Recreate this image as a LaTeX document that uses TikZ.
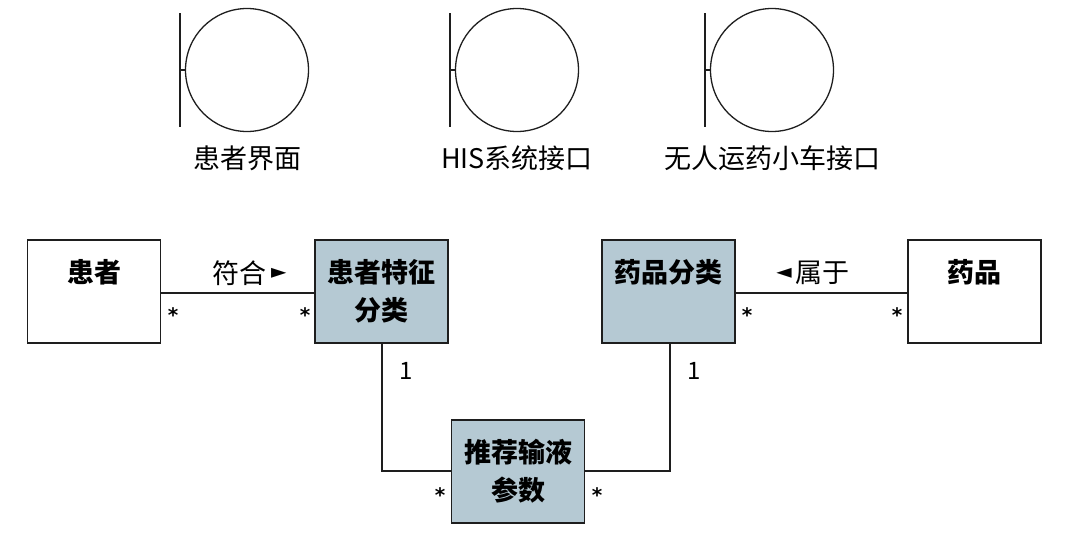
\documentclass[tikz,border=0pt]{standalone}
\usepackage{fontspec}
\usetikzlibrary{calc}
\setmainfont{Noto Sans CJK SC}
\newfontfamily\symfont{DejaVu Sans}
\definecolor{boxfill}{RGB}{181,201,211}
\definecolor{ln}{RGB}{30,30,30}
\tikzset{
  cls/.style={draw=ln, line width=1.4pt, minimum width=133pt, minimum height=103pt, inner sep=0pt, align=center, font=\fontsize{27}{38}\selectfont\bfseries},
  clsfill/.style={cls, fill=boxfill},
  conn/.style={draw=ln, line width=1.3pt},
  bnd/.style={circle, draw=ln, line width=1.3pt, minimum size=123pt, inner sep=0pt},
  bndlabel/.style={font=\fontsize{27}{30}\selectfont, inner sep=0pt},
  mult/.style={font=\fontsize{24}{26}\selectfont, inner sep=0pt},
  star/.style={font=\fontsize{20}{22}\symfont\bfseries, inner sep=0pt},
  asso/.style={font=\fontsize{27}{30}\selectfont, inner sep=0pt},
  tri/.style={font=\fontsize{20}{22}\symfont, inner sep=0pt},
}
\begin{document}
\begin{tikzpicture}[x=1pt,y=-1pt]
\useasboundingbox (0,0) rectangle (1066,541);
% boundary symbols
\foreach \n/\cx/\t in {b1/247/患者界面, b2/517/HIS系统接口, b3/772/无人运药小车接口}{
  \node[bnd] (\n) at (\cx,70) {};
  \draw[conn] (\n.west) -- ++(-5,0) coordinate (\n t);
  \draw[conn] ($(\n t)+(0,-57)$) -- ($(\n t)+(0,57)$);
  \node[bndlabel] (\n l) at (\cx,158) {\t};
}
% classes
\node[cls] (p) at (94,291.5) {患者\\\phantom{患}};
\node[clsfill] (pc) at (381.5,291.5) {患者特征\\分类};
\node[clsfill] (dc) at (668.5,291.5) {药品分类\\\phantom{药}};
\node[cls] (d) at (974.5,291.5) {药品\\\phantom{药}};
\node[clsfill] (r) at (518,471.5) {推荐输液\\参数};
% connectors
\draw[conn] (p.east |- 0,293) -- (pc.west |- 0,293);
\draw[conn] (dc.east |- 0,293) -- (d.west |- 0,293);
\draw[conn] (pc.south -| 382,0) |- (r.west |- 0,471);
\draw[conn] (dc.south -| 670,0) |- (r.east |- 0,471);
% association labels
\node[asso, anchor=east] (l1) at (267,273) {符合};
\node[tri, anchor=west] (a1) at (271,273) {►};
\node[asso, anchor=west] (l2) at (795,273) {属于};
\node[tri, anchor=east] (a2) at (792,273) {◄};
% multiplicities
\node[star] (m1) at (173,315) {*};
\node[star] (m2) at (305,315) {*};
\node[star] (m3) at (747,315) {*};
\node[star] (m4) at (897,315) {*};
\node[star] (m5) at (440,495) {*};
\node[star] (m6) at (597,495) {*};
\node[mult] (n1) at (406,371) {1};
\node[mult] (n2) at (694,371) {1};
\end{tikzpicture}
\end{document}
